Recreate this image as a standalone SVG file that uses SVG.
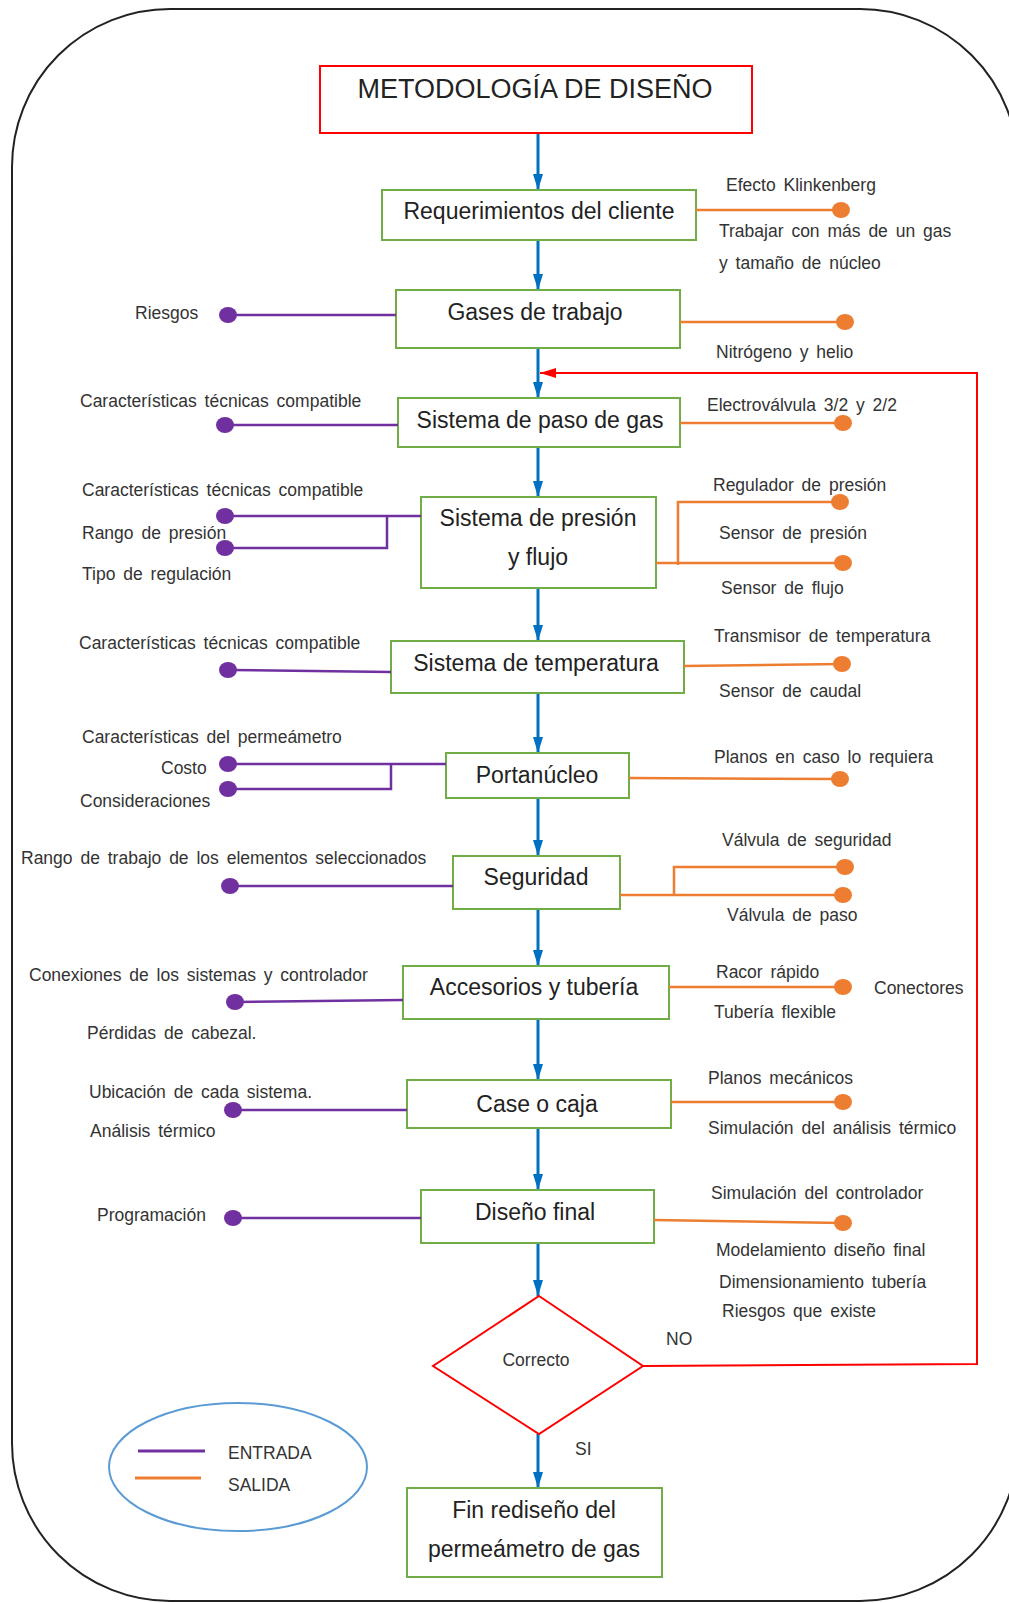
<svg xmlns="http://www.w3.org/2000/svg" width="1009" height="1603" viewBox="0 0 1009 1603">
<defs>
<style>
.node{fill:#fff;stroke:#70AD47;stroke-width:2}
.nt{font-family:"Liberation Sans",Arial,sans-serif;font-size:23px;fill:#222;text-anchor:middle}
.lb{font-family:"Liberation Sans",Arial,sans-serif;font-size:17.5px;fill:#333;word-spacing:3px}
.in{stroke:#7030A0;stroke-width:2.5;fill:none}
.out{stroke:#ED7D31;stroke-width:2.5;fill:none}
.pd{fill:#7030A0}
.od{fill:#ED7D31}
.flow{stroke:#0070C0;stroke-width:3;fill:none;marker-end:url(#ab)}
.loop{stroke:#FF0000;stroke-width:2;fill:none;marker-end:url(#ar)}
</style>
<marker id="ab" viewBox="0 0 16 10" refX="16" refY="5" markerWidth="16" markerHeight="10" markerUnits="userSpaceOnUse" orient="auto"><path d="M0,0 L16,5 L0,10 z" fill="#0070C0"/></marker>
<marker id="ar" viewBox="0 0 16 10" refX="16" refY="5" markerWidth="16" markerHeight="10" markerUnits="userSpaceOnUse" orient="auto"><path d="M0,0 L16,5 L0,10 z" fill="#FF0000"/></marker>
</defs>
<rect x="12" y="9" width="1006" height="1592" rx="158" ry="158" fill="#fff" stroke="#222" stroke-width="2"/>

<g id="connectors">
<line class="flow" x1="538" y1="133" x2="538" y2="190"/>
<line class="flow" x1="538" y1="240" x2="538" y2="290"/>
<line class="flow" x1="538" y1="348" x2="538" y2="398"/>
<line class="flow" x1="538" y1="447" x2="538" y2="497"/>
<line class="flow" x1="538" y1="588" x2="538" y2="641"/>
<line class="flow" x1="538" y1="693" x2="538" y2="753"/>
<line class="flow" x1="538" y1="798" x2="538" y2="856"/>
<line class="flow" x1="538" y1="909" x2="538" y2="966"/>
<line class="flow" x1="538" y1="1019" x2="538" y2="1080"/>
<line class="flow" x1="538" y1="1128" x2="538" y2="1190"/>
<line class="flow" x1="538" y1="1243" x2="538" y2="1296"/>
<line class="flow" x1="538" y1="1434" x2="538" y2="1488"/>
<polyline class="loop" points="643,1366 977,1364 977,373 540,373"/>
<text class="lb" x="666" y="1345">NO</text>
<text class="lb" x="575" y="1455">SI</text>
</g>

<g id="title">
<rect x="320" y="66" width="432" height="67" fill="#fff" stroke="#FF0000" stroke-width="2"/>
<text x="535" y="98" font-family="Liberation Sans, Arial, sans-serif" font-size="27" fill="#222" text-anchor="middle">METODOLOGÍA DE DISEÑO</text>
</g>

<g id="requerimientos">
<rect class="node" x="382" y="190" width="314" height="50"/>
<text class="nt" x="539" y="219" font-size="22">Requerimientos del cliente</text>
<line class="out" x1="696" y1="210" x2="841" y2="210"/>
<ellipse class="od" cx="841" cy="210" rx="9" ry="8"/>
<text class="lb" x="726" y="191">Efecto Klinkenberg</text>
<text class="lb" x="719" y="237">Trabajar con más de un gas</text>
<text class="lb" x="719" y="269">y tamaño de núcleo</text>
</g>

<g id="gases">
<rect class="node" x="396" y="290" width="284" height="58"/>
<text class="nt" x="535" y="320">Gases de trabajo</text>
<line class="in" x1="396" y1="315" x2="228" y2="315"/>
<ellipse class="pd" cx="228" cy="315" rx="9" ry="8"/>
<text class="lb" x="135" y="319">Riesgos</text>
<line class="out" x1="680" y1="322" x2="845" y2="322"/>
<ellipse class="od" cx="845" cy="322" rx="9" ry="8"/>
<text class="lb" x="716" y="358">Nitrógeno y helio</text>
</g>

<g id="paso-gas">
<rect class="node" x="398" y="398" width="282" height="49"/>
<text class="nt" x="540" y="428">Sistema de paso de gas</text>
<line class="in" x1="398" y1="425" x2="225" y2="425"/>
<ellipse class="pd" cx="225" cy="425" rx="9" ry="8"/>
<text class="lb" x="80" y="407">Características técnicas compatible</text>
<line class="out" x1="680" y1="423" x2="843" y2="423"/>
<ellipse class="od" cx="843" cy="423" rx="9" ry="8"/>
<text class="lb" x="707" y="411">Electroválvula 3/2 y 2/2</text>
</g>

<g id="presion-flujo">
<rect class="node" x="421" y="497" width="235" height="91"/>
<text class="nt" x="538" y="526">Sistema de presión</text>
<text class="nt" x="538" y="565">y flujo</text>
<polyline class="in" points="421,516 225,516"/>
<polyline class="in" points="387,516 387,548 225,548"/>
<ellipse class="pd" cx="225" cy="516" rx="9" ry="8"/>
<ellipse class="pd" cx="225" cy="548" rx="9" ry="8"/>
<text class="lb" x="82" y="496">Características técnicas compatible</text>
<text class="lb" x="82" y="539">Rango de presión</text>
<text class="lb" x="82" y="580">Tipo de regulación</text>
<polyline class="out" points="656,563 843,563"/>
<polyline class="out" points="678,565 678,502 840,502"/>
<ellipse class="od" cx="840" cy="502" rx="9" ry="8"/>
<ellipse class="od" cx="843" cy="563" rx="9" ry="8"/>
<text class="lb" x="713" y="491">Regulador de presión</text>
<text class="lb" x="719" y="539">Sensor de presión</text>
<text class="lb" x="721" y="594">Sensor de flujo</text>
</g>

<g id="temperatura">
<rect class="node" x="391" y="641" width="293" height="52"/>
<text class="nt" x="536" y="671">Sistema de temperatura</text>
<line class="in" x1="391" y1="672" x2="228" y2="670"/>
<ellipse class="pd" cx="228" cy="670" rx="9" ry="8"/>
<text class="lb" x="79" y="649">Características técnicas compatible</text>
<line class="out" x1="684" y1="666" x2="842" y2="664"/>
<ellipse class="od" cx="842" cy="664" rx="9" ry="8"/>
<text class="lb" x="714" y="642">Transmisor de temperatura</text>
<text class="lb" x="719" y="697">Sensor de caudal</text>
</g>

<g id="portanucleo">
<rect class="node" x="446" y="753" width="183" height="45"/>
<text class="nt" x="537" y="783">Portanúcleo</text>
<polyline class="in" points="446,764 228,764"/>
<polyline class="in" points="391,764 391,789 228,789"/>
<ellipse class="pd" cx="228" cy="764" rx="9" ry="8"/>
<ellipse class="pd" cx="228" cy="789" rx="9" ry="8"/>
<text class="lb" x="82" y="743">Características del permeámetro</text>
<text class="lb" x="161" y="774">Costo</text>
<text class="lb" x="80" y="807">Consideraciones</text>
<line class="out" x1="629" y1="778" x2="840" y2="779"/>
<ellipse class="od" cx="840" cy="779" rx="9" ry="8"/>
<text class="lb" x="714" y="763">Planos en caso lo requiera</text>
</g>

<g id="seguridad">
<rect class="node" x="453" y="856" width="167" height="53"/>
<text class="nt" x="536" y="885">Seguridad</text>
<line class="in" x1="453" y1="886" x2="230" y2="886"/>
<ellipse class="pd" cx="230" cy="886" rx="9" ry="8"/>
<text class="lb" x="21" y="864">Rango de trabajo de los elementos seleccionados</text>
<polyline class="out" points="620,895 843,895"/>
<polyline class="out" points="674,895 674,867 845,867"/>
<ellipse class="od" cx="845" cy="867" rx="9" ry="8"/>
<ellipse class="od" cx="843" cy="895" rx="9" ry="8"/>
<text class="lb" x="722" y="846">Válvula de seguridad</text>
<text class="lb" x="727" y="921">Válvula de paso</text>
</g>

<g id="accesorios">
<rect class="node" x="403" y="966" width="266" height="53"/>
<text class="nt" x="534" y="995">Accesorios y tubería</text>
<line class="in" x1="403" y1="1000" x2="235" y2="1002"/>
<ellipse class="pd" cx="235" cy="1002" rx="9" ry="8"/>
<text class="lb" x="29" y="981">Conexiones de los sistemas y controlador</text>
<text class="lb" x="87" y="1039">Pérdidas de cabezal.</text>
<line class="out" x1="669" y1="987" x2="843" y2="987"/>
<ellipse class="od" cx="843" cy="987" rx="9" ry="8"/>
<text class="lb" x="716" y="978">Racor rápido</text>
<text class="lb" x="874" y="994">Conectores</text>
<text class="lb" x="714" y="1018">Tubería flexible</text>
</g>

<g id="case">
<rect class="node" x="407" y="1080" width="264" height="48"/>
<text class="nt" x="537" y="1112">Case o caja</text>
<line class="in" x1="407" y1="1110" x2="233" y2="1110"/>
<ellipse class="pd" cx="233" cy="1110" rx="9" ry="8"/>
<text class="lb" x="89" y="1098">Ubicación de cada sistema.</text>
<text class="lb" x="90" y="1137">Análisis térmico</text>
<line class="out" x1="671" y1="1102" x2="843" y2="1102"/>
<ellipse class="od" cx="843" cy="1102" rx="9" ry="8"/>
<text class="lb" x="708" y="1084">Planos mecánicos</text>
<text class="lb" x="708" y="1134">Simulación del análisis térmico</text>
</g>

<g id="diseno-final">
<rect class="node" x="421" y="1190" width="233" height="53"/>
<text class="nt" x="535" y="1220">Diseño final</text>
<line class="in" x1="421" y1="1218" x2="233" y2="1218"/>
<ellipse class="pd" cx="233" cy="1218" rx="9" ry="8"/>
<text class="lb" x="97" y="1221">Programación</text>
<line class="out" x1="654" y1="1220" x2="843" y2="1223"/>
<ellipse class="od" cx="843" cy="1223" rx="9" ry="8"/>
<text class="lb" x="711" y="1199">Simulación del controlador</text>
<text class="lb" x="716" y="1256">Modelamiento diseño final</text>
<text class="lb" x="719" y="1288">Dimensionamiento tubería</text>
<text class="lb" x="722" y="1317">Riesgos que existe</text>
</g>

<g id="correcto">
<polygon points="539,1296 643,1366 539,1434 433,1366" fill="#fff" stroke="#FF0000" stroke-width="2"/>
<text class="lb" x="536" y="1366" text-anchor="middle" word-spacing="0">Correcto</text>
</g>

<g id="fin">
<rect class="node" x="407" y="1488" width="255" height="89"/>
<text class="nt" x="534" y="1518" font-size="22">Fin rediseño del</text>
<text class="nt" x="534" y="1557" font-size="22">permeámetro de gas</text>
</g>

<g id="leyenda">
<ellipse cx="238" cy="1467" rx="129" ry="64" fill="#fff" stroke="#5B9BD5" stroke-width="2"/>
<line x1="138" y1="1451" x2="205" y2="1451" stroke="#7030A0" stroke-width="3"/>
<line x1="135" y1="1478" x2="201" y2="1478" stroke="#ED7D31" stroke-width="3"/>
<text class="lb" x="228" y="1459">ENTRADA</text>
<text class="lb" x="228" y="1491">SALIDA</text>
</g>
</svg>
